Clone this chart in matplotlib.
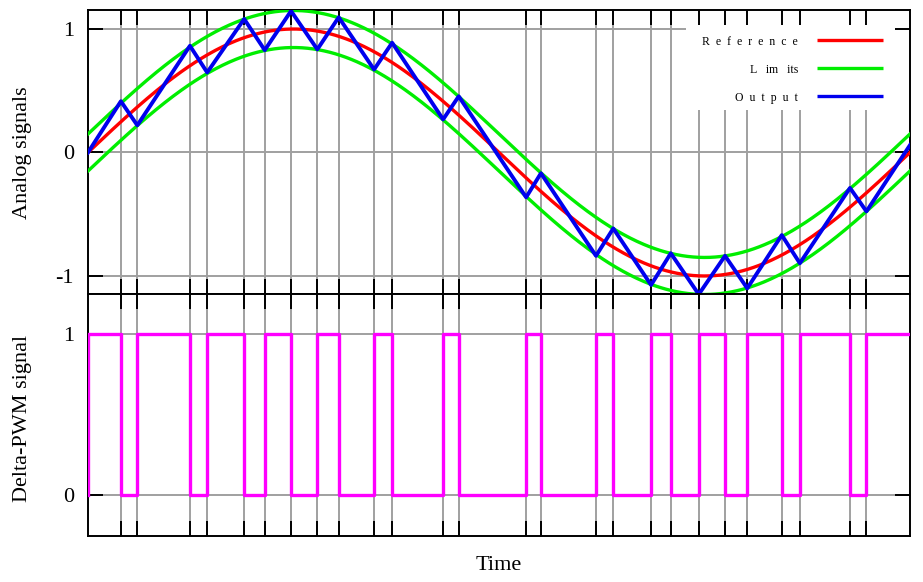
import numpy as np
import matplotlib
matplotlib.use('Agg')
import matplotlib.pyplot as plt
from matplotlib.patches import Rectangle

plt.rcParams['font.family'] = ['Liberation Serif', 'DejaVu Serif']

# Switching instants (fraction of one period)
switch_t = [0.040, 0.060, 0.124, 0.145, 0.190, 0.215, 0.247, 0.279, 0.305, 0.348,
            0.370, 0.432, 0.451, 0.533, 0.551, 0.618, 0.639, 0.685, 0.709, 0.743,
            0.775, 0.802, 0.844, 0.866, 0.927, 0.947]

# Output (delta modulator) value at start, each switching instant, end
out_t = [0.0] + switch_t + [1.0]
out_v = [0.0, 0.415, 0.22, 0.864, 0.648, 1.081, 0.829, 1.146, 0.835, 1.095, 0.672,
         0.889, 0.268, 0.455, -0.363, -0.168, -0.837, -0.615, -1.073, -0.816, -1.149,
         -0.837, -1.10, -0.669, -0.897, -0.287, -0.477, 0.06]

# PWM signal (step, post)
pwm_t = [0.0, 0.0] + switch_t + [1.0]
pwm_v = [0, 1, 0, 1, 0, 1, 0, 1, 0, 1, 0, 1, 0, 1, 0, 1, 0, 1, 0, 1, 0, 1, 0, 1, 0,
         1, 0, 1, 1]

ref_amp = 1.0
limit_band = 0.15
t = np.linspace(0, 1, 600)
ref = ref_amp * np.sin(2 * np.pi * t)

gray = '#a0a0a0'

fig = plt.figure(figsize=(9.23, 5.82), dpi=100)
ax1 = fig.add_axes([88/923, 1-294/582, 822/923, 284/582])
ax2 = fig.add_axes([88/923, 1-536/582, 822/923, 242/582])

for ax in (ax1, ax2):
    ax.set_axisbelow(False)
    ax.set_xlim(0, 1)
    ax.set_xticks(switch_t)
    ax.set_xticklabels([])
    ax.tick_params(axis='both', direction='in', length=10.5, width=1.4,
                   top=True, right=True, labelsize=16, pad=10, color='black')
    for tt in switch_t:
        ax.axvline(tt, color=gray, lw=1.4, zorder=1)
    for s in ax.spines.values():
        s.set_linewidth(1.4)
        s.set_zorder(2.6)

# top panel
ax1.set_ylim(-1.146, 1.154)
ax1.set_yticks([-1, 0, 1])
ax1.set_yticklabels(['-1', '0', '1'])
for yv in [-1, 0, 1]:
    ax1.axhline(yv, color=gray, lw=1.4, zorder=1)
ax1.plot(t, ref + limit_band, color='#00ee00', lw=2.4, zorder=3)
ax1.plot(t, ref - limit_band, color='#00ee00', lw=2.4, zorder=3)
ax1.plot(t, ref, color='#ff0000', lw=2.4, zorder=3.1)
ax1.plot(out_t, out_v, color='#0000ee', lw=2.8, zorder=3.2)

# legend drawn by hand (white box under ticks)
ax1.add_patch(Rectangle((0.7275, 0.648), 0.2725, 0.352, transform=ax1.transAxes,
                        facecolor='white', edgecolor='none', zorder=2))
leg_labels = ['R  e  f  e  r  e  n  c  e', 'L   im   its', 'O  u  t  p  u  t']
leg_colors = ['#ff0000', '#00ee00', '#0000ee']
leg_y = [0.894, 0.796, 0.697]
for lab, col, yy in zip(leg_labels, leg_colors, leg_y):
    ax1.text(0.8637, yy - 0.008, lab, transform=ax1.transAxes, ha='right', va='center',
             fontsize=8.5, zorder=2.2)
    ax1.plot([0.8869, 0.9672], [yy, yy], transform=ax1.transAxes, color=col,
             lw=2.4, zorder=2.2, solid_capstyle='butt')

# bottom panel
ax2.set_ylim(-0.255, 1.248)
ax2.set_yticks([0, 1])
ax2.set_yticklabels(['0', '1'])
for yv in [0, 1]:
    ax2.axhline(yv, color=gray, lw=1.4, zorder=1)
ax2.step(pwm_t, pwm_v, where='post', color='#ff00ff', lw=2.4, zorder=3)

fig.text(23/923, 1-153/582, 'Analog signals', rotation=90, ha='center', va='center',
         fontsize=16)
fig.text(23/923, 1-418/582, 'Delta-PWM signal', rotation=90, ha='center', va='center',
         fontsize=16)
fig.text(499/923, 1-565/582, 'Time', ha='center', va='center', fontsize=16)

fig.savefig('out.png', dpi=100)
